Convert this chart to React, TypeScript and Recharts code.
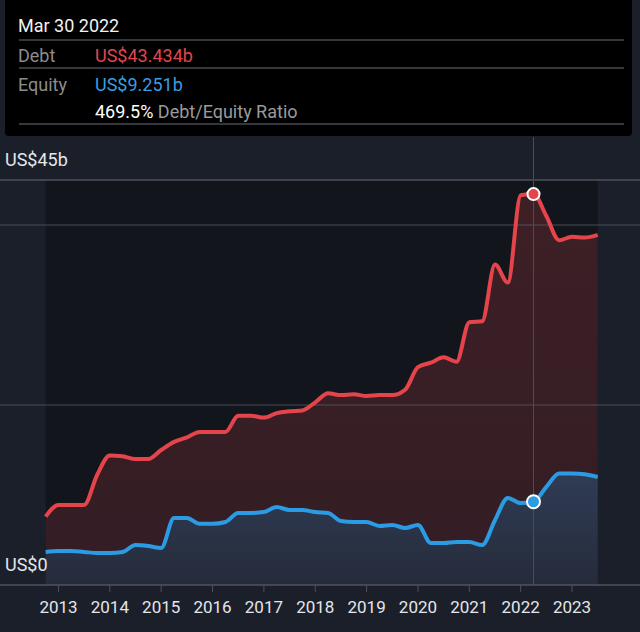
import { ComposedChart, Area, Line, XAxis, YAxis, ReferenceLine, ReferenceArea, ReferenceDot } from 'recharts'

// quarter ends, Sep 2012 .. Jun 2023
const quarters = [
  '2012-09', '2012-12',
  '2013-03', '2013-06', '2013-09', '2013-12',
  '2014-03', '2014-06', '2014-09', '2014-12',
  '2015-03', '2015-06', '2015-09', '2015-12',
  '2016-03', '2016-06', '2016-09', '2016-12',
  '2017-03', '2017-06', '2017-09', '2017-12',
  '2018-03', '2018-06', '2018-09', '2018-12',
  '2019-03', '2019-06', '2019-09', '2019-12',
  '2020-03', '2020-06', '2020-09', '2020-12',
  '2021-03', '2021-06', '2021-09', '2021-12',
  '2022-03', '2022-06', '2022-09', '2022-12',
  '2023-03', '2023-06',
]

// US$ billions
const debt = [
  7.6, 8.9, 8.9, 8.9, 12.2, 14.4, 14.3, 14.0, 14.0, 15.0,
  15.9, 16.4, 17.0, 17.0, 17.0, 18.8, 18.8, 18.6, 19.1, 19.3,
  19.4, 20.3, 21.3, 21.1, 21.2, 21.0, 21.1, 21.1, 21.7, 24.2,
  24.7, 25.3, 24.8, 29.2, 29.3, 35.6, 33.6, 43.3, 43.434, 41.0,
  38.3, 38.7, 38.6, 38.9,
]

const equity = [
  3.67, 3.78, 3.78, 3.67, 3.56, 3.56, 3.67, 4.44, 4.33, 4.1,
  7.44, 7.44, 6.8, 6.8, 7.0, 8.0, 8.0, 8.1, 8.67, 8.33,
  8.33, 8.1, 8.0, 7.1, 7.0, 7.0, 6.56, 6.67, 6.33, 6.67,
  4.67, 4.67, 4.78, 4.78, 4.44, 7.2, 9.67, 9.1, 9.251, 10.9,
  12.4, 12.4, 12.3, 12.0,
]

const yearTicks = [2013, 2014, 2015, 2016, 2017, 2018, 2019, 2020, 2021, 2022, 2023]
const gridValues = [0, 20, 40, 45]
const yLabels: Record<number, string> = { 0: 'US$0', 45: 'US$45b' }

const toYear = (q: string) => {
  const [y, m] = q.split('-').map(Number)
  return y + m / 12
}

const data = quarters.map((q, i) => ({ t: toYear(q), debt: debt[i], equity: equity[i] }))
const hover = data[38]

const FONT = 'Roboto, "Noto Sans", sans-serif'
const PAGE_BG = '#1b1f29'

function yLabel(text: string) {
  return ({ viewBox }: { viewBox?: { x: number; y: number } }) => (
    <text x={(viewBox?.x ?? 0) + 5} y={(viewBox?.y ?? 0) - 14} fill="#e4e6ea" fontSize={18} fontFamily={FONT} textAnchor="start">
      {text}
    </text>
  )
}

function Panel() {
  const row = (top: number) => ({ position: 'absolute' as const, top, fontSize: 18, lineHeight: '18px', whiteSpace: 'nowrap' as const })
  const sep = (top: number) => (
    <div style={{ position: 'absolute', left: 14, right: 8, top, height: 2, background: '#34373d' }} />
  )
  return (
    <div style={{ position: 'absolute', left: 5, top: -4, width: 627, height: 140, background: '#000', borderRadius: 4, fontFamily: FONT }}>
      <div style={{ ...row(21), left: 13, color: '#f2f2f2' }}>Mar 30 2022</div>
      {sep(43)}
      <div style={{ ...row(51), left: 13, color: '#8c8c8c' }}>Debt</div>
      <div style={{ ...row(51), left: 90, color: '#e0474c' }}>US$43.434b</div>
      {sep(71)}
      <div style={{ ...row(80), left: 13, color: '#8c8c8c' }}>Equity</div>
      <div style={{ ...row(80), left: 90, color: '#3a9de0' }}>US$9.251b</div>
      <div style={{ ...row(107), left: 90, color: '#9a9a9a' }}>
        <span style={{ color: '#ffffff' }}>469.5%</span> Debt/Equity Ratio
      </div>
      {sep(127)}
    </div>
  )
}

export default function App() {
  return (
    <div style={{ position: 'absolute', left: 0, top: 0, width: 640, height: 632, background: PAGE_BG, overflow: 'hidden' }}>
      <ComposedChart width={640} height={632} data={data} margin={{ top: 137, right: 0, bottom: 0, left: 0 }}>
        <defs>
          <linearGradient id="debtFill" x1="0" y1="0" x2="0" y2="1">
            <stop offset="0%" stopColor="#3e1f26" />
            <stop offset="100%" stopColor="#331d24" />
          </linearGradient>
          <linearGradient id="equityFill" x1="0" y1="0" x2="0" y2="1">
            <stop offset="0%" stopColor="#303c55" />
            <stop offset="100%" stopColor="#252b3a" />
          </linearGradient>
        </defs>
        <XAxis dataKey="t" type="number" domain={[2011.861, 2024.324]} allowDataOverflow ticks={yearTicks}
          height={47} axisLine={false} tickSize={7} tickMargin={9} tickLine={{ stroke: '#4c515a' }}
          tick={{ fill: '#e4e6ea', fontSize: 17, fontFamily: FONT }} />
        <YAxis type="number" domain={[0, 49.78]} allowDataOverflow width={0} hide />
        <ReferenceArea x1={2012.75} x2={2023.5} y1={0} y2={45} fill="#12151c" fillOpacity={1} stroke="none" />
        <Area type="monotone" dataKey="debt" stroke="none" fill="url(#debtFill)" fillOpacity={1} isAnimationActive={false} />
        <Area type="monotone" dataKey="equity" stroke="none" fill="url(#equityFill)" fillOpacity={1} isAnimationActive={false} />
        {gridValues.map((v) => (
          <ReferenceLine key={v} y={v} stroke="#5a5f69" strokeOpacity={v === 0 || v === 45 ? 0.8 : 0.5} strokeWidth={1.5}
            label={yLabels[v] ? yLabel(yLabels[v]) : undefined} />
        ))}
        <ReferenceLine x={hover.t} stroke="#38536b" strokeWidth={1} />
        <Line type="monotone" dataKey="debt" stroke="#e5454a" strokeWidth={4} dot={false} isAnimationActive={false} />
        <Line type="monotone" dataKey="equity" stroke="#2b9be3" strokeWidth={4} dot={false} isAnimationActive={false} />
        <ReferenceDot x={hover.t} y={hover.debt} r={6} fill="#e5454a" stroke="#ffffff" strokeWidth={2} />
        <ReferenceDot x={hover.t} y={hover.equity} r={6.5} fill="#2b9be3" stroke="#ffffff" strokeWidth={2} />
      </ComposedChart>
      <Panel />
    </div>
  )
}
